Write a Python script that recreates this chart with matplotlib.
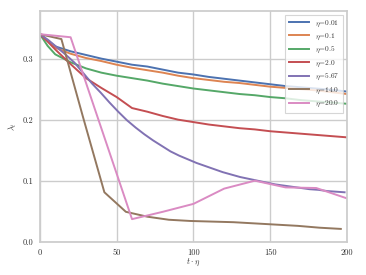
import numpy as np
import matplotlib
matplotlib.use("Agg")
import matplotlib.pyplot as plt

# ---- data ----
x_fine = [0, 5, 10, 20, 30, 40, 50, 60, 70, 80, 90, 100, 110, 120, 130, 140, 150, 160, 170, 180, 190, 200]
y_001 = [0.340, 0.330, 0.320, 0.312, 0.306, 0.300, 0.295, 0.290, 0.287, 0.282, 0.277, 0.274, 0.270, 0.267,
         0.264, 0.261, 0.258, 0.255, 0.253, 0.251, 0.249, 0.246]
y_01 = [0.340, 0.330, 0.318, 0.308, 0.301, 0.296, 0.290, 0.285, 0.281, 0.277, 0.272, 0.268, 0.265, 0.262,
        0.260, 0.257, 0.254, 0.252, 0.250, 0.248, 0.245, 0.242]
y_05 = [0.340, 0.321, 0.307, 0.294, 0.284, 0.277, 0.272, 0.268, 0.264, 0.259, 0.255, 0.251, 0.248, 0.245,
        0.242, 0.240, 0.237, 0.235, 0.232, 0.230, 0.228, 0.226]
y_2 = [0.340, 0.328, 0.315, 0.291, 0.268, 0.252, 0.237, 0.219, 0.213, 0.206, 0.200, 0.196, 0.192, 0.189,
       0.186, 0.184, 0.181, 0.179, 0.177, 0.175, 0.173, 0.171]

eta_567 = 5.67
y_567 = [0.340, 0.330, 0.318, 0.306, 0.293, 0.276, 0.259, 0.244, 0.228, 0.213, 0.199, 0.187, 0.176, 0.166,
         0.157, 0.148, 0.141, 0.135, 0.129, 0.124, 0.119, 0.114, 0.110, 0.106, 0.103, 0.100, 0.097, 0.094,
         0.092, 0.090, 0.088, 0.086, 0.085, 0.083, 0.082, 0.081]
eta_14 = 14.0
y_14 = [0.340, 0.332, 0.205, 0.081, 0.049, 0.041, 0.036, 0.034, 0.033, 0.032, 0.030, 0.028, 0.026, 0.023, 0.021]
eta_20 = 20.0
y_20 = [0.340, 0.335, 0.186, 0.037, 0.049, 0.062, 0.087, 0.100, 0.089, 0.088, 0.071]

labels = [r"$\eta$=0.01", r"$\eta$=0.1", r"$\eta$=0.5", r"$\eta$=2.0", r"$\eta$=5.67", r"$\eta$=14.0", r"$\eta$=20.0"]
colors = ["#4C72B0", "#DD8452", "#55A868", "#C44E52", "#8172B3", "#937860", "#DA8BC3"]

plt.rcParams["font.family"] = "serif"
plt.rcParams["font.serif"] = ["cmr10", "DejaVu Serif"]
plt.rcParams["mathtext.fontset"] = "cm"
plt.rcParams["axes.formatter.use_mathtext"] = True

fig = plt.figure(figsize=(3.66, 2.75), dpi=100)
ax = fig.add_axes([0.109, 0.121, 0.839, 0.839])

series = [
    (x_fine, y_001), (x_fine, y_01), (x_fine, y_05), (x_fine, y_2),
    (np.arange(len(y_567)) * eta_567, y_567),
    (np.arange(len(y_14)) * eta_14, y_14),
    (np.arange(len(y_20)) * eta_20, y_20),
]
for (xs, ys), lab, c in zip(series, labels, colors):
    ax.plot(xs, ys, color=c, lw=1.4, label=lab)

ax.set_xlim(0, 200)
ax.set_ylim(0, 0.378)
ax.set_xticks([0, 50, 100, 150, 200])
ax.set_yticks([0.0, 0.1, 0.2, 0.3])
ax.set_xticklabels(["0", "50", "100", "150", "200"])
ax.set_yticklabels(["0.0", "0.1", "0.2", "0.3"])
ax.grid(True, color="#cccccc", lw=1.0)
ax.set_axisbelow(True)
for s in ax.spines.values():
    s.set_color("#cccccc")
    s.set_linewidth(1.25)
ax.tick_params(length=0, labelsize=6, pad=5, colors="#333333")
ax.set_xlabel(r"$t \cdot \eta$", fontsize=6, labelpad=0, color="#333333")
ax.set_ylabel(r"$\lambda_t$", fontsize=6, labelpad=2, color="#333333")

leg = ax.legend(loc="upper right", fontsize=5.3, handlelength=2.8, labelspacing=0.45,
                borderpad=0.5, frameon=True, fancybox=False)
leg.get_frame().set_edgecolor("#cccccc")
leg.get_frame().set_linewidth(0.8)
for t in leg.get_texts():
    t.set_color("#333333")

fig.savefig("out.png", dpi=100)
